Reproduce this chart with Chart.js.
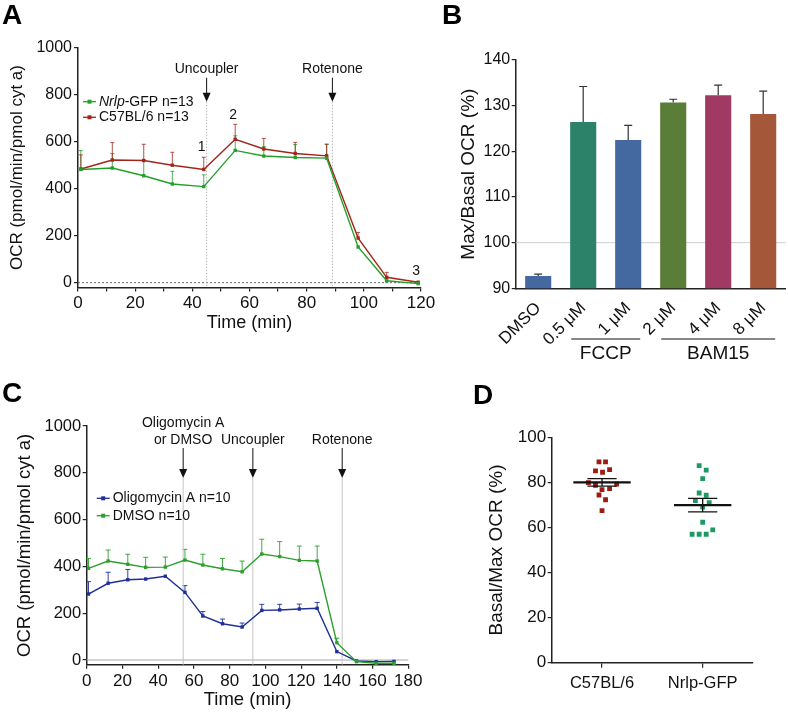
<!DOCTYPE html>
<html>
<head>
<meta charset="utf-8">
<script src="https://cdn.jsdelivr.net/npm/chart.js@4.4.1/dist/chart.umd.min.js"></script>
<style>
  body { margin: 0; background: #fff; }
  #wrap { position: relative; width: 788px; height: 712px; overflow: hidden; font-family: "Liberation Sans", Arial, sans-serif; }
  canvas { position: absolute; }
  .letter { position: absolute; font-weight: bold; font-size: 28px; line-height: 1; color: #000; }
</style>
</head>
<body>
<div id="wrap">
  <canvas id="chartA" style="left:0;top:0" width="445" height="340"></canvas>
  <canvas id="chartB" style="left:430px;top:0" width="358" height="365"></canvas>
  <canvas id="chartC" style="left:0;top:340px" width="440" height="372"></canvas>
  <canvas id="chartD" style="left:440px;top:365px" width="348" height="347"></canvas>
  <div class="letter" style="left:2px;top:1px">A</div>
  <div class="letter" style="left:442px;top:1px">B</div>
  <div class="letter" style="left:2px;top:379px">C</div>
  <div class="letter" style="left:473px;top:381px">D</div>
</div>
<script>
const FONT = '"Liberation Sans", Arial, sans-serif';
Chart.defaults.font.family = FONT;
Chart.defaults.color = '#111';

// Panel A: OCR time course, Nrlp-GFP vs C57BL/6
const timeA = [1, 12, 23, 33, 44, 55, 65, 76, 87, 98, 108, 119];
const nrlpA = [482, 488, 455, 420, 409, 563, 539, 533, 530, 152, 8, -4];
const nrlpErrA = [80, 62, 67, 54, 50, 62, 40, 55, 58, 0, 0, 0];
const wildA = [484, 522, 520, 500, 482, 610, 569, 550, 540, 190, 23, 2];
const wildErrA = [60, 74, 69, 55, 52, 64, 45, 47, 50, 24, 21, 0];
const eventTimeA = [45, 89];
const eventTextA = [['Uncoupler'], ['Rotenone']];
const markTextA = ['1', '2', '3'];
const markIdxA = [4, 5, 11];
const yTicksA = [0, 200, 400, 600, 800, 1000];

// Panel B: Max/Basal OCR per uncoupler dose
const catsB = ['DMSO', '0.5 μM', '1 μM', '2 μM', '4 μM', '8 μM'];
const valsB = [92.7, 126.4, 122.5, 130.7, 132.3, 128.2];
const errB = [0.4, 7.8, 3.2, 0.7, 2.2, 5.0];
const colorsB = ['#4468a0', '#2c8268', '#4468a0', '#5a7d37', '#a13a62', '#a5573a'];
const groupNamesB = ['FCCP', 'BAM15'];
const groupFromB = [1, 3];
const groupToB = [2, 5];

// Panel C: Oligomycin A vs DMSO
const timeC = [1, 12, 23, 33, 44, 55, 65, 76, 87, 98, 108, 119, 129, 140, 151, 162, 172];
const oligoC = [282, 328, 343, 346, 358, 289, 188, 155, 141, 212, 214, 218, 221, 36, -4, -7, -6];
const oligoErrC = [53, 47, 44, 0, 0, 29, 19, 20, 17, 26, 24, 21, 25, 0, 0, 0, 0];
const dmsoC = [392, 423, 409, 396, 397, 427, 406, 390, 377, 453, 442, 426, 423, 74, -7, -14, -14];
const dmsoErrC = [42, 47, 43, 43, 43, 46, 46, 44, 46, 63, 64, 61, 64, 19, 0, 0, 0];
const eventTimeC = [54, 93, 143];
const eventTextC = [['Oligomycin A', 'or DMSO'], ['Uncoupler'], ['Rotenone']];
const yTicksC = [0, 200, 400, 600, 800, 1000];

// Panel D: Basal/Max OCR per animal
const groupsD = ['C57BL/6', 'Nrlp-GFP'];
const wildD = [89.1, 89.1, 85.1, 84.5, 85.7, 79.9, 78.7, 76.8, 77.2, 79.2, 74.4, 72.3, 67.5];
const wildJitD = [-0.06, 0.07, -0.13, 0.01, 0.15, -0.27, -0.13, 0, 0.15, 0.29, -0.06, 0.07, 0];
const nrlpD = [87.4, 85.4, 81.7, 75.3, 74.3, 71.9, 71.0, 69.0, 62.3, 57.0, 57.0, 57.0, 58.9];
const nrlpJitD = [-0.07, 0.07, 0, -0.07, 0.07, -0.145, 0.13, 0, 0, -0.21, -0.07, 0.07, 0.2];
const meanD = [80.0, 69.9];
const semD = [1.7, 3.0];

const GREEN_A = '#23a02a';
const RED_A = '#a3241a';
const BLUE_C = '#1e2f98';
const GREEN_C = '#2ca02c';

// one-sided (upward) error bars, read from dataset.errUp
const errorBars = {
  id: 'errorBars',
  beforeDatasetsDraw(chart, args, opts) {
    const {ctx} = chart;
    chart.data.datasets.forEach((ds, i) => {
      if (!ds.errUp) return;
      const meta = chart.getDatasetMeta(i);
      const yScale = chart.scales[meta.yAxisID];
      ctx.save();
      ctx.strokeStyle = ds.errColor || ds.borderColor;
      ctx.lineWidth = opts.width || 1;
      meta.data.forEach((el, j) => {
        const e = ds.errUp[j];
        if (!e) return;
        const raw = ds.data[j];
        const v = typeof raw === 'object' ? raw.y : raw;
        const top = yScale.getPixelForValue(v + e);
        ctx.beginPath();
        ctx.moveTo(el.x, el.y);
        ctx.lineTo(el.x, top);
        ctx.moveTo(el.x - opts.cap, top);
        ctx.lineTo(el.x + opts.cap, top);
        ctx.stroke();
      });
      ctx.restore();
    });
  }
};

function drawArrow(ctx, x, y0, y1) {
  ctx.beginPath();
  ctx.moveTo(x, y0);
  ctx.lineTo(x, y1 - 5);
  ctx.stroke();
  ctx.beginPath();
  ctx.moveTo(x - 4, y1 - 9);
  ctx.lineTo(x + 4, y1 - 9);
  ctx.lineTo(x, y1);
  ctx.closePath();
  ctx.fill();
}

function drawLegendRow(ctx, x, y, color, italic, rest) {
  ctx.strokeStyle = color;
  ctx.fillStyle = color;
  ctx.lineWidth = 1.3;
  ctx.beginPath();
  ctx.moveTo(x, y);
  ctx.lineTo(x + 13, y);
  ctx.stroke();
  ctx.fillRect(x + 4.5, y - 2, 4, 4);
  ctx.fillStyle = '#111';
  ctx.textBaseline = 'middle';
  ctx.textAlign = 'left';
  let tx = x + 16;
  if (italic) {
    ctx.font = 'italic 14px ' + FONT;
    ctx.fillText(italic, tx, y);
    tx += ctx.measureText(italic).width;
  }
  ctx.font = '14px ' + FONT;
  ctx.fillText(rest, tx, y);
}

// event markers: vertical line + arrow + label
function eventPlugin(id, times, texts, cfg) {
  return {
    id: id,
    beforeDatasetsDraw(chart) {
      const {ctx, chartArea, scales: {x, y}} = chart;
      ctx.save();
      // zero line
      ctx.strokeStyle = cfg.zeroColor;
      ctx.lineWidth = 1;
      ctx.setLineDash(cfg.zeroDash);
      const y0 = y.getPixelForValue(0);
      ctx.beginPath();
      ctx.moveTo(chartArea.left, y0);
      ctx.lineTo(chartArea.right, y0);
      ctx.stroke();
      // vertical event lines
      ctx.strokeStyle = cfg.lineColor;
      ctx.setLineDash(cfg.lineDash);
      times.forEach(t => {
        const px = x.getPixelForValue(t);
        ctx.beginPath();
        ctx.moveTo(px, chartArea.top + cfg.tip);
        ctx.lineTo(px, chartArea.bottom);
        ctx.stroke();
      });
      ctx.restore();
    },
    afterDraw(chart) {
      const {ctx, chartArea, scales: {x}} = chart;
      ctx.save();
      ctx.fillStyle = '#111';
      ctx.strokeStyle = '#111';
      ctx.lineWidth = 1;
      ctx.font = '14px ' + FONT;
      ctx.textAlign = 'center';
      ctx.textBaseline = 'middle';
      times.forEach((t, i) => {
        const px = x.getPixelForValue(t);
        const lines = texts[i];
        lines.forEach((s, k) => {
          const ty = chartArea.top + cfg.text - (lines.length - 1 - k) * 16.7;
          ctx.fillText(s, px, ty);
        });
        drawArrow(ctx, px, chartArea.top + cfg.arrow, chartArea.top + cfg.tip);
      });
      ctx.restore();
    }
  };
}

const annA = {
  id: 'annA',
  afterDraw(chart) {
    const {ctx, chartArea} = chart;
    ctx.save();
    drawLegendRow(ctx, chartArea.left + 5, chartArea.top + 54, GREEN_A, 'Nrlp', '-GFP n=13');
    drawLegendRow(ctx, chartArea.left + 5, chartArea.top + 69.6, RED_A, '', 'C57BL/6 n=13');
    const meta = chart.getDatasetMeta(1);
    const offs = [-22, -24, -11];
    ctx.fillStyle = '#111';
    ctx.font = '14px ' + FONT;
    ctx.textAlign = 'center';
    ctx.textBaseline = 'middle';
    markIdxA.forEach((idx, i) => {
      const el = meta.data[idx];
      ctx.fillText(markTextA[i], el.x - 2, el.y + offs[i]);
    });
    ctx.restore();
  }
};

const annC = {
  id: 'annC',
  afterDraw(chart) {
    const {ctx, chartArea} = chart;
    ctx.save();
    drawLegendRow(ctx, chartArea.left + 10, chartArea.top + 72.3, BLUE_C, '', 'Oligomycin A n=10');
    drawLegendRow(ctx, chartArea.left + 10, chartArea.top + 89.7, GREEN_C, '', 'DMSO n=10');
    ctx.restore();
  }
};

function axisStyle(extra) {
  return Object.assign({
    border: {display: true, color: '#222', width: 1.5},
    grid: {display: true, drawOnChartArea: false, drawTicks: true, tickLength: 4, color: '#222', lineWidth: 1.2},
  }, extra);
}

function lineSet(label, times, vals, errs, color) {
  return {
    label: label,
    data: times.map((t, i) => ({x: t, y: vals[i]})),
    errUp: errs,
    showLine: true,
    borderColor: color,
    backgroundColor: color,
    borderWidth: 1.4,
    pointStyle: 'rect',
    pointRadius: 2.4,
    pointBorderWidth: 0,
    tension: 0,
    clip: false
  };
}

const plainNum = v => String(v);

// ---- A ----
new Chart(document.getElementById('chartA'), {
  type: 'scatter',
  data: {
    datasets: [
      lineSet('Nrlp-GFP n=13', timeA, nrlpA, nrlpErrA, GREEN_A),
      lineSet('C57BL/6 n=13', timeA, wildA, wildErrA, RED_A)
    ]
  },
  options: {
    responsive: false,
    animation: false,
    layout: {padding: {top: 47.7, right: 24, bottom: 0, left: 0}},
    plugins: {legend: {display: false}, tooltip: {enabled: false}, errorBars: {cap: 2, width: 0.8}},
    scales: {
      x: axisStyle({
        type: 'linear', min: 0, max: 120,
        afterFit: s => { s.height = 52.6; },
        ticks: {stepSize: 10, autoSkip: false, maxRotation: 0, minRotation: 0, padding: 2, font: {size: 17}, color: '#111',
          callback: v => (v % 20 === 0 ? String(v) : '')},
        title: {display: true, text: 'Time (min)', font: {size: 18}, color: '#111', padding: {top: 0, bottom: 6}}
      }),
      y: axisStyle({
        min: -20, max: 1000,
        afterFit: s => { s.width = 78; },
        afterBuildTicks: s => { s.ticks = yTicksA.map(v => ({value: v})); },
        ticks: {padding: 2, font: {size: 16}, color: '#111', callback: plainNum},
        title: {display: true, text: 'OCR (pmol/min/pmol cyt a)', font: {size: 17}, color: '#111', padding: {top: 7, bottom: 0}}
      })
    }
  },
  plugins: [errorBars,
    eventPlugin('evA', eventTimeA, eventTextA, {zeroColor: '#666', zeroDash: [2, 2], lineColor: '#b5b5b5', lineDash: [1.5, 1.5], text: 21, arrow: 30, tip: 54}),
    annA]
});

// ---- B ----
const groupB = {
  id: 'groupB',
  beforeDatasetsDraw(chart) {
    const {ctx, chartArea, scales: {y}} = chart;
    ctx.save();
    ctx.strokeStyle = '#cfcfcf';
    ctx.lineWidth = 1;
    const py = y.getPixelForValue(100);
    ctx.beginPath();
    ctx.moveTo(chartArea.left, py);
    ctx.lineTo(chartArea.right, py);
    ctx.stroke();
    ctx.restore();
  },
  afterDraw(chart) {
    const {ctx, chartArea, scales: {x}} = chart;
    ctx.save();
    ctx.strokeStyle = '#111';
    ctx.fillStyle = '#111';
    ctx.lineWidth = 1.2;
    ctx.font = '19px ' + FONT;
    ctx.textAlign = 'center';
    ctx.textBaseline = 'middle';
    groupNamesB.forEach((name, i) => {
      const x0 = x.getPixelForValue(groupFromB[i]) - 12;
      const x1 = x.getPixelForValue(groupToB[i]) + 12;
      ctx.beginPath();
      ctx.moveTo(x0, chartArea.bottom + 50.7);
      ctx.lineTo(x1, chartArea.bottom + 50.7);
      ctx.stroke();
      ctx.fillText(name, (x0 + x1) / 2, chartArea.bottom + 65);
    });
    ctx.restore();
  }
};

new Chart(document.getElementById('chartB'), {
  type: 'bar',
  data: {
    labels: catsB,
    datasets: [{
      data: valsB,
      errUp: errB,
      errColor: '#333',
      backgroundColor: colorsB,
      borderColor: colorsB,
      borderWidth: 0,
      barPercentage: 0.58,
      categoryPercentage: 1
    }]
  },
  options: {
    responsive: false,
    animation: false,
    layout: {padding: {top: 60, right: 2.3, bottom: 0, left: 0}},
    plugins: {legend: {display: false}, tooltip: {enabled: false}, errorBars: {cap: 4, width: 1.2}},
    scales: {
      x: {
        afterFit: s => { s.height = 76.7; },
        border: {display: true, color: '#222', width: 1.5},
        grid: {display: false},
        ticks: {minRotation: 45, maxRotation: 45, padding: 2, font: {size: 17}, color: '#111'}
      },
      y: axisStyle({
        min: 90, max: 140,
        afterFit: s => { s.width = 85.7; },
        ticks: {stepSize: 10, padding: 1.5, font: {size: 16}, color: '#111'},
        title: {display: true, text: 'Max/Basal OCR (%)', font: {size: 19}, color: '#111', padding: {top: 27, bottom: 0}}
      })
    }
  },
  plugins: [errorBars, groupB]
});

// ---- C ----
new Chart(document.getElementById('chartC'), {
  type: 'scatter',
  data: {
    datasets: [
      lineSet('DMSO n=10', timeC, dmsoC, dmsoErrC, GREEN_C),
      lineSet('Oligomycin A n=10', timeC, oligoC, oligoErrC, BLUE_C)
    ]
  },
  options: {
    responsive: false,
    animation: false,
    layout: {padding: {top: 86, right: 31.7, bottom: 0, left: 0}},
    plugins: {legend: {display: false}, tooltip: {enabled: false}, errorBars: {cap: 2.5, width: 0.9}},
    scales: {
      x: axisStyle({
        type: 'linear', min: 0, max: 180,
        afterFit: s => { s.height = 47.3; },
        ticks: {stepSize: 20, autoSkip: false, maxRotation: 0, minRotation: 0, padding: 2, font: {size: 17}, color: '#111', callback: plainNum},
        title: {display: true, text: 'Time (min)', font: {size: 18.5}, color: '#111', padding: {top: 0, bottom: 1}}
      }),
      y: axisStyle({
        min: -20, max: 1000,
        afterFit: s => { s.width = 86.7; },
        afterBuildTicks: s => { s.ticks = yTicksC.map(v => ({value: v})); },
        ticks: {padding: 1.5, font: {size: 16.5}, color: '#111', callback: plainNum},
        title: {display: true, text: 'OCR (pmol/min/pmol cyt a)', font: {size: 18.5}, color: '#111', padding: {top: 14, bottom: 0}}
      })
    }
  },
  plugins: [errorBars,
    eventPlugin('evC', eventTimeC, eventTextC, {zeroColor: '#aaa', zeroDash: [], lineColor: '#c4c4c4', lineDash: [], text: 14, arrow: 22, tip: 52}),
    annC]
});

// ---- D ----
const meanSemD = {
  id: 'meanSemD',
  afterDatasetsDraw(chart) {
    const {ctx, scales: {x, y}} = chart;
    ctx.save();
    ctx.strokeStyle = '#111';
    meanD.forEach((m, i) => {
      const cx = 1 + 2 * i;
      const pm = y.getPixelForValue(m);
      const pt = y.getPixelForValue(m + semD[i]);
      const pb = y.getPixelForValue(m - semD[i]);
      ctx.lineWidth = 2.2;
      ctx.beginPath();
      ctx.moveTo(x.getPixelForValue(cx - 0.57), pm);
      ctx.lineTo(x.getPixelForValue(cx + 0.57), pm);
      ctx.stroke();
      ctx.lineWidth = 1.3;
      ctx.beginPath();
      ctx.moveTo(x.getPixelForValue(cx), pt);
      ctx.lineTo(x.getPixelForValue(cx), pb);
      ctx.moveTo(x.getPixelForValue(cx - 0.29), pt);
      ctx.lineTo(x.getPixelForValue(cx + 0.29), pt);
      ctx.moveTo(x.getPixelForValue(cx - 0.29), pb);
      ctx.lineTo(x.getPixelForValue(cx + 0.29), pb);
      ctx.stroke();
    });
    ctx.restore();
  }
};

function dotSet(vals, jit, center, color) {
  return {
    data: vals.map((v, i) => ({x: center + jit[i], y: v})),
    backgroundColor: color,
    borderWidth: 0,
    pointStyle: 'rect',
    pointRadius: 3.4
  };
}

new Chart(document.getElementById('chartD'), {
  type: 'scatter',
  data: {
    datasets: [
      dotSet(wildD, wildJitD, 1, '#9b1c10'),
      dotSet(nrlpD, nrlpJitD, 3, '#1d9a62')
    ]
  },
  options: {
    responsive: false,
    animation: false,
    layout: {padding: {top: 72.3, right: 35, bottom: 0, left: 0}},
    plugins: {legend: {display: false}, tooltip: {enabled: false}},
    scales: {
      x: axisStyle({
        type: 'linear', min: 0, max: 4,
        afterFit: s => { s.height = 49.3; },
        afterBuildTicks: s => { s.ticks = [{value: 1}, {value: 3}]; },
        grid: {display: true, drawOnChartArea: false, drawTicks: true, tickLength: 5, color: '#222', lineWidth: 1.2},
        ticks: {padding: 6, maxRotation: 0, font: {size: 16.5}, color: '#111', callback: v => groupsD[(v - 1) / 2]}
      }),
      y: axisStyle({
        min: 0, max: 100,
        afterFit: s => { s.width = 111.7; },
        ticks: {stepSize: 20, padding: 1.5, font: {size: 17}, color: '#111'},
        title: {display: true, text: 'Basal/Max OCR (%)', font: {size: 19}, color: '#111', padding: {top: 45, bottom: 0}}
      })
    }
  },
  plugins: [meanSemD]
});
</script>
</body>
</html>
